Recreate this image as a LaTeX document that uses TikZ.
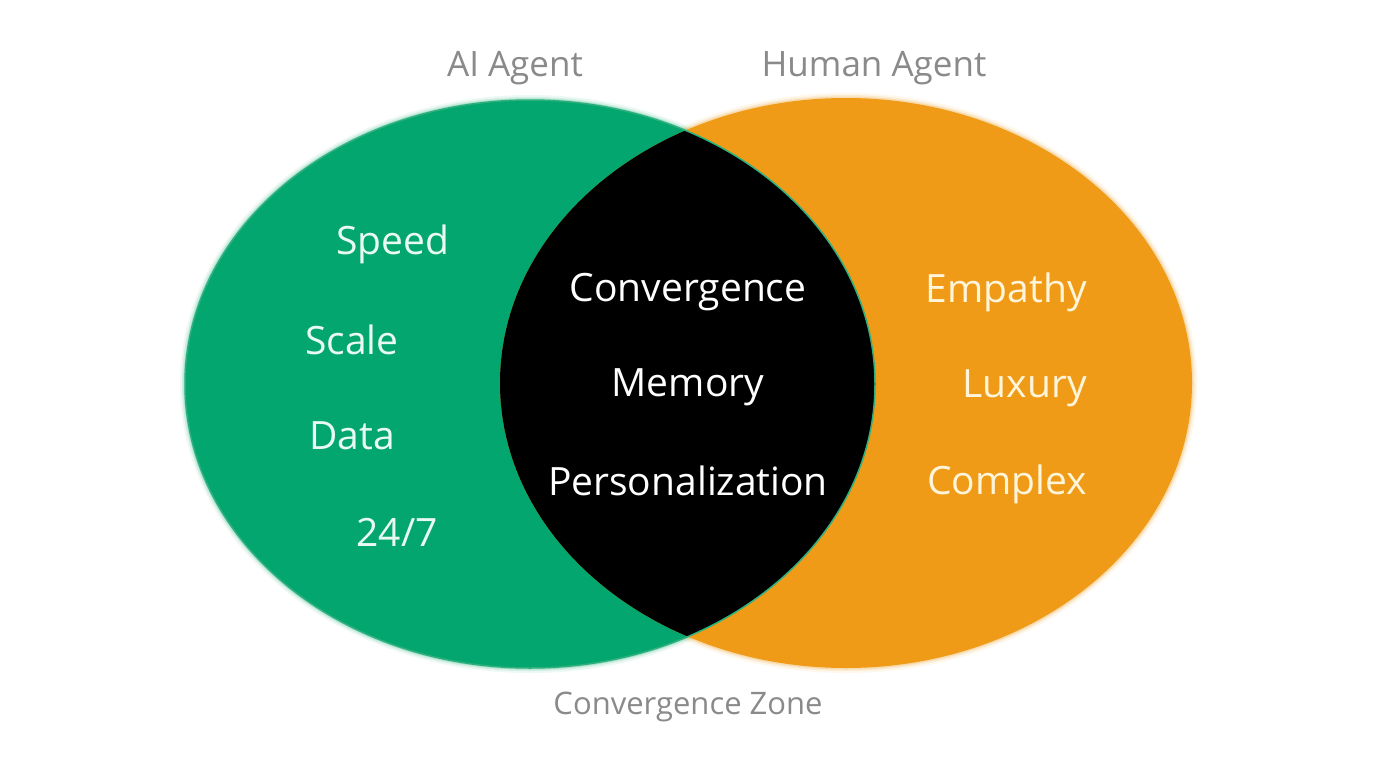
\documentclass[tikz,border=0pt]{standalone}
\usepackage{fontspec}
\setmainfont{Open Sans}
\definecolor{aigreen}{HTML}{04A66F}
\definecolor{aiedge}{HTML}{2DB07E}
\definecolor{humorange}{HTML}{EF9B17}
\definecolor{greentext}{HTML}{E8FAF1}
\definecolor{orangetext}{HTML}{FFF5DA}
\definecolor{labelgray}{HTML}{8A8A8A}
\tikzset{
  item/.style={font=\fontsize{39}{43}\selectfont, inner sep=0pt, anchor=center},
  gitem/.style={item, text=greentext},
  oitem/.style={item, text=orangetext},
  citem/.style={item, text=white},
  label/.style={font=\fontsize{35}{39}\selectfont, text=labelgray, inner sep=0pt, anchor=center},
  zonelabel/.style={label, font=\fontsize{31}{35}\selectfont}
}
\begin{document}
\begin{tikzpicture}[x=1pt,y=-1pt]
\useasboundingbox (0,0) rectangle (1376,768);
\fill[white] (0,0) rectangle (1376,768);
% glow
\foreach \w/\o in {10/0.08,6/0.12,3/0.2}{
  \draw[aigreen, line width=\w, opacity=\o] (530,384) ellipse [x radius=345, y radius=284];
  \draw[humorange, line width=\w, opacity=\o] (846,383) ellipse [x radius=346, y radius=285];
}
\fill[aigreen] (530,384) ellipse [x radius=345, y radius=284];
\fill[humorange] (846,383) ellipse [x radius=346, y radius=285];
\begin{scope}
  \clip (530,384) ellipse [x radius=345, y radius=284];
  \fill[black] (846,383) ellipse [x radius=346, y radius=285];
\end{scope}
\draw[aiedge, line width=1.5] (530,384) ellipse [x radius=345, y radius=284];
% labels
\node[label] (ai) at (515,68) {AI Agent};
\node[label] (human) at (874,68) {Human Agent};
\node[zonelabel] (zone) at (688,707) {Convergence Zone};
% AI items
\node[gitem] (speed) at (393,244) {Speed};
\node[gitem] (scale) at (352,340) {Scale};
\node[gitem] (data) at (352,436) {Data};
\node[gitem] (always) at (397,532) {24/7};
% center items
\node[citem] (conv) at (688,292) {Convergence};
\node[citem] (mem) at (688,387) {Memory};
\node[citem] (pers) at (688,481) {Personalization};
% human items
\node[oitem, anchor=east] (emp) at (1087,292) {Empathy};
\node[oitem, anchor=east] (lux) at (1087,388) {Luxury};
\node[oitem, anchor=east] (comp) at (1087,484) {Complex};
\end{tikzpicture}
\end{document}
